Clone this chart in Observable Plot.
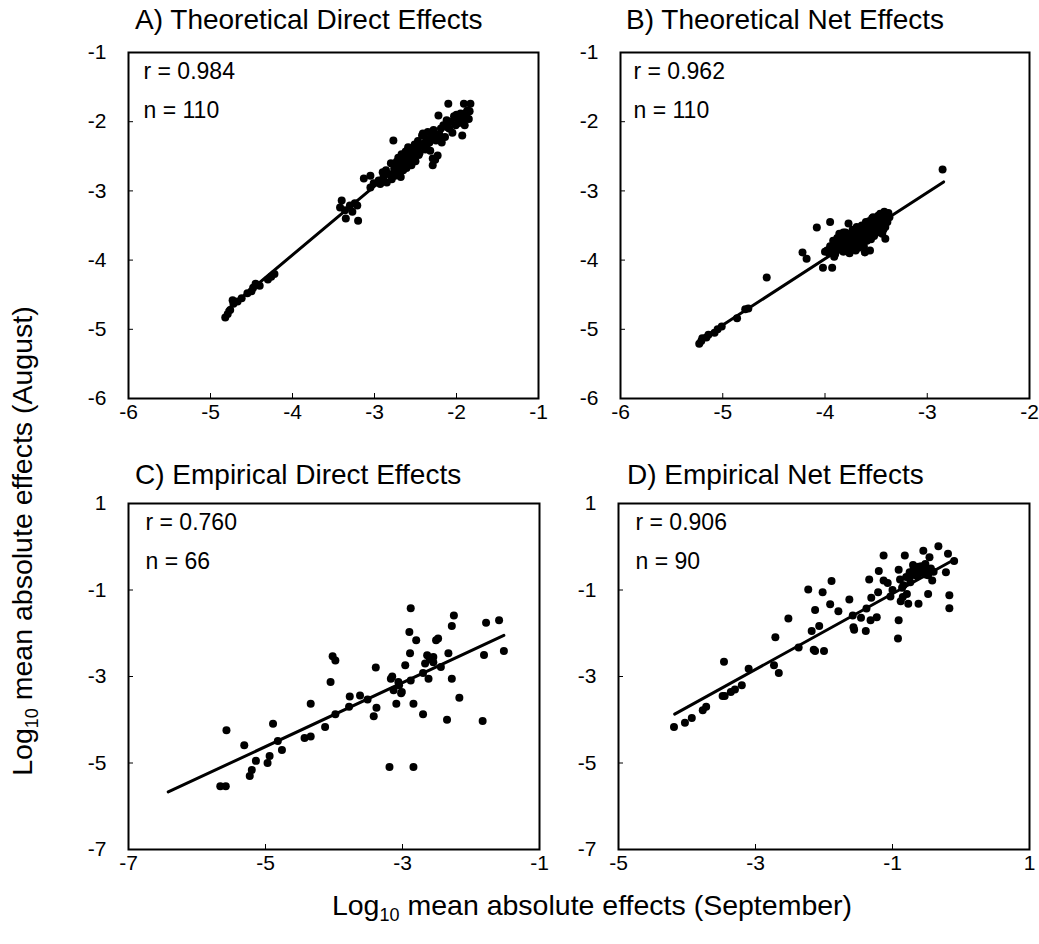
<!DOCTYPE html>
<html><head><meta charset="utf-8">
<script src="https://cdn.jsdelivr.net/npm/d3@7"></script>
<script src="https://cdn.jsdelivr.net/npm/@observablehq/plot@0.6"></script>
<style>
body{margin:0;background:#fff;font-family:"Liberation Sans",Arial,sans-serif;color:#000;}
#wrap{position:relative;width:1039px;height:944px;overflow:hidden;}
.title{position:absolute;font-size:28px;white-space:nowrap;line-height:1;}
.axlab{position:absolute;font-size:28.5px;white-space:nowrap;line-height:1;}
.axlab sub{font-size:18px;vertical-align:-6px;line-height:0;}
</style></head><body><div id="wrap"></div>
<script>
// ---------- data ----------
const titles = ["A) Theoretical Direct Effects","B) Theoretical Net Effects","C) Empirical Direct Effects","D) Empirical Net Effects"];
const statsA = ["r = 0.984","n = 110"];
const statsB = ["r = 0.962","n = 110"];
const statsC = ["r = 0.760","n = 66"];
const statsD = ["r = 0.906","n = 90"];
const ticksAx = [-6,-5,-4,-3,-2,-1], ticksAy = [-6,-5,-4,-3,-2,-1];
const ticksBx = [-6,-5,-4,-3,-2],   ticksBy = [-6,-5,-4,-3,-2,-1];
const ticksCx = [-7,-5,-3,-1],      ticksCy = [-7,-5,-3,-1,1];
const ticksDx = [-5,-3,-1,1],       ticksDy = [-7,-5,-3,-1,1];

const ptsA = [
[-4.82,-4.83],[-4.79,-4.78],[-4.76,-4.72],[-4.72,-4.63],[-4.73,-4.58],[-4.67,-4.60],[-4.62,-4.55],[-4.55,-4.48],[-4.50,-4.45],[-4.48,-4.40],[-4.45,-4.34],[-4.40,-4.37],[-4.30,-4.28],[-4.26,-4.24],[-4.22,-4.20],
[-3.40,-3.14],[-3.42,-3.24],[-3.36,-3.28],[-3.35,-3.40],[-3.30,-3.21],[-3.24,-3.18],[-3.21,-3.21],[-3.20,-3.43],[-3.27,-3.30],
[-3.13,-2.82],[-3.05,-2.78],[-3.01,-2.89],[-3.05,-2.95],[-2.95,-2.85],[-2.93,-2.90],[-2.90,-2.73],[-2.89,-2.80],[-2.86,-2.70],[-2.85,-2.88],[-2.82,-2.76],[-2.80,-2.60],[-2.79,-2.83],[-2.77,-2.27],[-2.76,-2.68],[-2.75,-2.78],[-2.74,-2.62],[-2.73,-2.58],[-2.72,-2.73],[-2.71,-2.52],[-2.70,-2.65],[-2.68,-2.80],[-2.67,-2.47],[-2.66,-2.62],[-2.65,-2.70],[-2.63,-2.55],[-2.62,-2.43],[-2.61,-2.67],[-2.60,-2.52],[-2.59,-2.37],[-2.58,-2.58],[-2.57,-2.50],[-2.55,-2.63],[-2.54,-2.42],[-2.52,-2.48],[-2.51,-2.33],[-2.50,-2.57],[-2.48,-2.40],[-2.47,-2.28],[-2.46,-2.48],[-2.45,-2.45],[-2.44,-2.35],[-2.42,-2.20],[-2.41,-2.17],[-2.40,-2.32],[-2.38,-2.40],[-2.37,-2.25],[-2.36,-2.33],[-2.35,-2.15],[-2.33,-2.30],[-2.32,-2.42],[-2.30,-2.20],[-2.29,-2.63],[-2.29,-2.53],[-2.28,-2.12],[-2.27,-2.22],[-2.26,-2.55],[-2.25,-2.27],[-2.23,-2.49],[-2.22,-1.91],[-2.21,-2.18],[-2.20,-2.25],[-2.19,-2.10],[-2.18,-2.30],[-2.16,-2.05],[-2.14,-2.22],[-2.12,-1.98],[-2.11,-2.08],[-2.10,-1.74],[-2.09,-2.10],[-2.07,-2.00],[-2.05,-2.16],[-2.03,-1.92],[-2.01,-2.05],[-2.00,-1.90],[-1.99,-1.96],[-1.97,-2.02],[-1.95,-1.88],[-1.93,-2.20],[-1.92,-1.98],[-1.91,-1.74],[-1.90,-2.05],[-1.88,-1.92],[-1.87,-1.84],[-1.85,-1.96],[-1.84,-1.85],[-1.83,-1.74]
];
const fitA = [[-4.80,-4.72],[-1.82,-1.76]];

const ptsB = [
[-5.23,-5.21],[-5.21,-5.17],[-5.20,-5.13],[-5.16,-5.12],[-5.14,-5.08],[-5.08,-5.05],[-5.05,-5.00],[-5.01,-4.96],[-4.86,-4.84],[-4.78,-4.71],[-4.75,-4.70],[-4.57,-4.25],
[-4.22,-3.89],[-4.18,-3.98],[-4.08,-3.53],[-4.02,-4.11],[-3.93,-4.11],[-3.95,-3.45],[-3.77,-3.47],[-3.61,-3.89],[-3.56,-3.86],[-3.41,-3.69],[-2.85,-2.69],
[-3.98,-3.86],[-3.96,-3.90],[-3.95,-3.80],[-3.92,-3.72],[-3.90,-3.91],[-3.89,-3.78],[-3.88,-3.68],[-3.87,-3.85],[-3.86,-3.62],[-3.85,-3.75],[-3.84,-3.82],[-3.83,-3.66],[-3.82,-3.88],[-3.81,-3.72],[-3.80,-3.60],[-3.79,-3.79],[-3.78,-3.84],[-3.77,-3.68],[-3.76,-3.75],[-3.75,-3.62],[-3.74,-3.82],[-3.73,-3.56],[-3.72,-3.70],[-3.71,-3.78],[-3.70,-3.64],[-3.69,-3.52],[-3.68,-3.73],[-3.67,-3.82],[-3.66,-3.60],[-3.65,-3.68],[-3.64,-3.50],[-3.63,-3.76],[-3.62,-3.58],[-3.61,-3.66],[-3.60,-3.45],[-3.59,-3.72],[-3.58,-3.55],[-3.57,-3.62],[-3.56,-3.48],[-3.55,-3.70],[-3.54,-3.40],[-3.53,-3.58],[-3.52,-3.65],[-3.51,-3.50],[-3.50,-3.42],[-3.49,-3.60],[-3.48,-3.36],[-3.47,-3.55],[-3.46,-3.33],[-3.45,-3.47],[-3.44,-3.62],[-3.43,-3.40],[-3.42,-3.30],[-3.41,-3.52],[-3.40,-3.35],[-3.39,-3.45],[-3.38,-3.32],[-3.37,-3.38],
[-3.74,-3.68],[-3.70,-3.86],[-3.66,-3.72],[-3.62,-3.80],[-3.58,-3.68],[-3.54,-3.54],[-3.50,-3.56],[-3.46,-3.44],[-3.82,-3.60],[-3.78,-3.64],[-3.76,-3.90],[-3.72,-3.62],[-3.64,-3.64],[-3.60,-3.58],[-3.56,-3.62],[-3.52,-3.46],[-3.48,-3.50],
[-3.94,-3.84],[-3.86,-3.70],[-3.80,-3.74],[-3.68,-3.62],[-3.62,-3.70],[-3.57,-3.44],[-3.53,-3.38],[-3.45,-3.38],[-3.43,-3.56],[-3.91,-3.95],[-4.00,-3.88],[-3.40,-3.42]
];
const fitB = [[-5.21,-5.14],[-2.84,-2.87]];

const ptsC = [
[-5.66,-5.54],[-5.58,-5.54],[-5.57,-4.24],[-5.31,-4.59],[-5.23,-5.30],[-5.20,-5.16],[-5.14,-4.95],[-4.97,-5.00],[-4.94,-4.84],[-4.89,-4.09],[-4.82,-4.49],[-4.76,-4.70],
[-4.34,-3.63],[-4.34,-4.39],[-4.13,-4.17],[-4.05,-3.13],[-4.02,-2.53],[-3.98,-2.63],[-3.98,-3.87],[-3.77,-3.46],[-3.78,-3.70],[-3.51,-3.53],[-3.42,-3.92],[-3.39,-2.79],[-3.38,-3.72],
[-3.19,-5.09],[-3.17,-3.05],[-3.15,-3.00],[-3.13,-3.32],[-3.09,-3.63],[-3.06,-3.13],[-3.02,-3.39],[-3.01,-3.36],[-2.96,-2.74],[-2.90,-1.97],[-2.89,-2.46],[-2.88,-1.42],[-2.88,-3.09],[-2.84,-3.63],[-2.84,-5.09],[-2.80,-2.16],
[-2.70,-2.92],[-2.70,-3.87],[-2.67,-2.70],[-2.64,-2.51],[-2.62,-3.05],[-2.55,-2.55],[-2.55,-2.67],[-2.51,-2.16],[-2.48,-2.12],[-2.44,-2.78],[-2.35,-4.00],[-2.33,-2.46],[-2.28,-1.83],[-2.28,-3.05],[-2.25,-1.59],[-2.17,-3.49],
[-1.83,-4.03],[-1.81,-2.50],[-1.78,-1.76],[-1.59,-1.70],[-1.52,-2.41],[-3.05,-3.20],[-2.60,-2.60],[-4.43,-4.42],[-3.62,-3.44]
];
const fitC = [[-6.42,-5.67],[-1.52,-2.05]];

const ptsD = [
[-4.19,-4.17],[-4.03,-4.07],[-3.93,-3.96],[-3.77,-3.78],[-3.72,-3.70],[-3.48,-3.45],[-3.45,-3.45],[-3.36,-3.36],[-3.30,-3.30],[-3.20,-3.20],[-3.46,-2.66],[-3.10,-2.82],
[-2.73,-2.74],[-2.66,-2.92],[-2.71,-2.09],[-2.52,-1.66],[-2.37,-2.33],[-2.18,-1.95],[-2.07,-1.83],[-2.15,-2.38],[-2.13,-2.41],[-2.00,-2.41],[-2.13,-1.46],[-2.23,-0.99],[-2.02,-1.05],
[-1.91,-1.33],[-1.89,-0.79],[-1.79,-1.49],[-1.63,-1.22],[-1.58,-1.59],[-1.56,-1.92],[-1.57,-1.86],[-1.46,-1.64],[-1.39,-1.95],[-1.38,-1.43],[-1.34,-0.76],[-1.32,-1.70],[-1.31,-1.18],[-1.23,-1.63],
[-1.20,-0.56],[-1.21,-1.05],[-1.13,-0.20],[-1.13,-0.78],[-1.07,-0.84],[-1.03,-1.15],[-0.92,-2.12],[-0.91,-1.70],[-0.89,-0.76],[-0.91,-0.53],[-0.88,-1.26],[-0.85,-1.16],[-0.82,-0.20],[-0.84,-0.89],
[-0.79,-1.09],[-0.77,-1.32],[-0.75,-0.59],[-0.72,-0.66],[-0.69,-0.49],[-0.62,-1.32],[-0.58,-0.45],[-0.55,-0.09],[-0.57,-0.59],[-0.54,-0.56],[-0.52,-0.64],[-0.46,-0.24],[-0.48,-1.09],[-0.42,-0.78],
[-0.33,0.01],[-0.22,-0.59],[-0.19,-0.16],[-0.17,-1.12],[-0.17,-1.42],[-0.10,-0.33],
[-0.72,-0.62],[-0.66,-0.55],[-0.64,-0.68],[-0.60,-0.58],[-0.56,-0.50],[-0.53,-0.62],[-0.50,-0.55],[-0.48,-0.66],[-0.44,-0.50],[-0.40,-0.58],[-0.70,-0.42],[-0.62,-0.46],[-0.52,-0.40],[-0.80,-0.70],[-0.86,-0.95],[-0.74,-0.82],[-1.00,-1.00]
];
const fitD = [[-4.18,-3.87],[-0.09,-0.29]];

// ---------- drawing ----------
const wrap = document.getElementById("wrap");
const FONT = "Liberation Sans, Arial, sans-serif";
const fmt = d => String(d);

function panel(pts, fit, xDomain, yDomain, xTicks, yTicks, stats, left, top, fw, fh, sdx) {
  const ML = 70, MT = 10, MR = 10, MB = 45;
  const data = pts.map(([x, y]) => ({x, y}));
  const line = fit.map(([x, y]) => ({x, y}));
  const svg = Plot.plot({
    width: ML + fw + MR, height: MT + fh + MB,
    marginLeft: ML, marginTop: MT, marginRight: MR, marginBottom: MB,
    style: {background: "transparent", fontFamily: FONT, fontSize: "21px", color: "black", overflow: "visible"},
    x: {domain: xDomain},
    y: {domain: yDomain},
    marks: [
      Plot.axisX({ticks: xTicks, tickSize: -5, tickPadding: 11, tickFormat: fmt, label: null, fontSize: 21}),
      Plot.axisY({ticks: yTicks, tickSize: -5, tickPadding: 27, tickFormat: fmt, label: null, fontSize: 21}),
      Plot.line(line, {x: "x", y: "y", stroke: "black", strokeWidth: 3}),
      Plot.dot(data, {x: "x", y: "y", r: 4, fill: "black", stroke: "none"}),
      Plot.frame({stroke: "black", strokeWidth: 2}),
      Plot.text([stats[0]], {text: d => d, frameAnchor: "top-left", dx: sdx, dy: 10, fontSize: 23, textAnchor: "start", lineAnchor: "top"}),
      Plot.text([stats[1]], {text: d => d, frameAnchor: "top-left", dx: sdx, dy: 49, fontSize: 23, textAnchor: "start", lineAnchor: "top"})
    ]
  });
  svg.style.position = "absolute";
  svg.style.left = (left - ML) + "px";
  svg.style.top = (top - MT) + "px";
  wrap.appendChild(svg);
}

panel(ptsA, fitA, [-6, -1], [-6, -1], ticksAx, ticksAy, statsA, 128, 52, 410, 346, 15);
panel(ptsB, fitB, [-6, -2], [-6, -1], ticksBx, ticksBy, statsB, 620, 52, 409, 346, 13);
panel(ptsC, fitC, [-7, -1], [-7, 1], ticksCx, ticksCy, statsC, 128, 503, 411, 346, 17);
panel(ptsD, fitD, [-5, 1], [-7, 1], ticksDx, ticksDy, statsD, 618, 503, 411, 346, 17);

const titlePos = [[135, 6], [626, 6], [135, 461], [627, 461]];
titles.forEach((t, i) => {
  const d = document.createElement("div");
  d.className = "title";
  d.textContent = t;
  d.style.left = titlePos[i][0] + "px";
  d.style.top = titlePos[i][1] + "px";
  wrap.appendChild(d);
});

const yl = document.createElement("div");
yl.className = "axlab";
yl.innerHTML = "Log<sub>10</sub> mean absolute effects (August)";
yl.style.left = "22px"; yl.style.top = "541px";
yl.style.transform = "translate(-50%,-50%) rotate(-90deg)";
wrap.appendChild(yl);

const xl = document.createElement("div");
xl.className = "axlab";
xl.innerHTML = "Log<sub>10</sub> mean absolute effects (September)";
xl.style.left = "592px"; xl.style.top = "905px";
xl.style.transform = "translate(-50%,-50%)";
wrap.appendChild(xl);
</script></body></html>
